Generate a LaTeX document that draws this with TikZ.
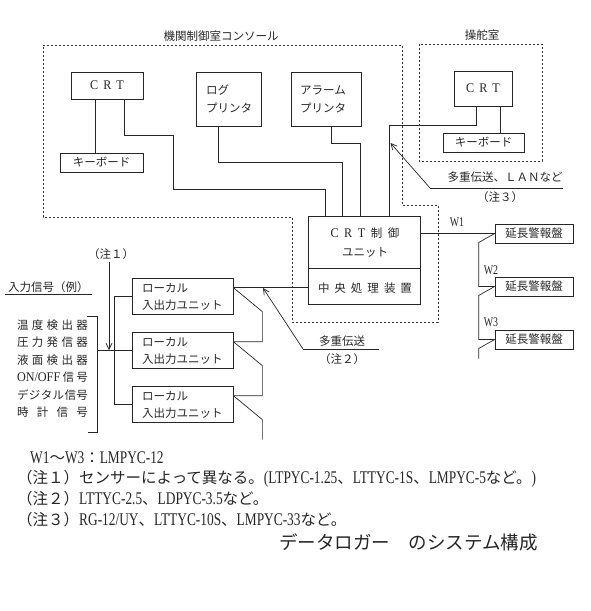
\documentclass[tikz,border=0pt]{standalone}
\usepackage{fontspec}
\setmainfont{Noto Sans CJK JP}
\newfontfamily\latf[FakeStretch=0.75,Scale=1.15]{Liberation Serif}
\newfontfamily\latd[FakeStretch=0.92,Scale=1.15]{Liberation Serif}
\newcommand\lt[1]{{\latf #1}}
\newcommand\ld[1]{{\latd #1}}
\newcommand\fsz{\fontsize{11.5pt}{13pt}\selectfont}
\newcommand\nfs{\fontsize{15.5pt}{17pt}\selectfont}
\newcommand\spr[2]{\makebox[#1][s]{#2}}
\usetikzlibrary{arrows.meta}
\begin{document}
\begin{tikzpicture}[x=1pt,y=-1pt,
  ln/.style={line width=0.7pt, draw=black!85},
  bx/.style={draw=black!85, line width=0.7pt, rectangle, inner sep=0pt, font=\fsz, text=black!85},
  tx/.style={inner sep=0pt, font=\fsz, text=black!85},
  nt/.style={inner sep=0pt, font=\nfs, text=black!85, anchor=west},
  dsh/.style={draw=black!80, line width=0.6pt, dash pattern=on 2.2pt off 1.8pt},
  arr/.style={-{Straight Barb[length=6pt,width=6pt]}}]
\useasboundingbox (0,0) rectangle (591,611);

% dashed rooms
\draw[dsh] (43,45) -- (402,45) -- (402,205) -- (438,205) -- (438,322) -- (292,322) -- (292,217) -- (43,217) -- cycle;
\draw[dsh] (419,44) rectangle (542,161);
\node[tx] (t1) at (221,36) {機関制御室コンソール};
\node[tx] (t2) at (482,35) {操舵室};

% console devices
\node[bx,minimum width=72pt,minimum height=27pt] (crt1) at (107,85.5) {\ld{C\hspace{5pt}R\hspace{5pt}T}};
\node[bx,minimum width=83pt,minimum height=19pt] (kb1) at (101.5,162.5) {キーボード};
\node[bx,minimum width=65pt,minimum height=54pt] (log) at (228.5,99) {};
\node[tx,anchor=west] (logt1) at (206,90) {ログ};
\node[tx,anchor=west] (logt2) at (206,108) {プリンタ};
\node[bx,minimum width=70pt,minimum height=54pt] (alm) at (326,99) {};
\node[tx,anchor=west] (almt1) at (300,90) {アラーム};
\node[tx,anchor=west] (almt2) at (300,108) {プリンタ};
\node[bx,minimum width=58pt,minimum height=35pt] (crt2) at (483,88.5) {\ld{C\hspace{5pt}R\hspace{5pt}T}};
\node[bx,minimum width=81pt,minimum height=19pt] (kb2) at (483.5,142.5) {キーボード};

% CRT control / CPU
\node[bx,minimum width=112pt,minimum height=88pt] (cpu) at (364,260) {};
\draw[ln] ([yshift=-53pt]cpu.north west) -- ([yshift=-53pt]cpu.north east);
\node[tx] (cput1) at (365,233) {\spr{69pt}{\ld{C}\hfill\ld{R}\hfill\ld{T}\hfill 制\hfill 御}};
\node[tx] (cput2) at (365,252) {ユニット};
\node[tx] (cput3) at (365,288) {\spr{94pt}{中\hfill 央\hfill 処\hfill 理\hfill 装\hfill 置}};

% console connections
\draw[ln] ([xshift=25pt]crt1.south west) -- ([xshift=25pt]crt1.south west |- kb1.north);
\draw[ln] ([xshift=54pt]crt1.south west) |- (173,135) -- (173,189) -| ([xshift=18pt]cpu.north west);
\draw[ln] ([xshift=23pt]log.south west) -- ++(0,36) -| ([xshift=35pt]cpu.north west);
\draw[ln] ([xshift=41pt]alm.south west) -- ++(0,17) -| ([xshift=53pt]cpu.north west);
\draw[ln] ([xshift=47pt]crt2.south west) -- ([xshift=47pt]crt2.south west |- kb2.north);
\draw[ln] ([xshift=23pt]crt2.south west) -- ++(0,19) -| ([xshift=82pt]cpu.north west);

% note 3 arrow
\coordinate (a3) at (390.5,143);
\coordinate (n3) at (430,188);
\coordinate (n3e) at (563,188);
\draw[ln,arr] (n3) -- (a3);
\draw[ln] (n3) -- (n3e);
\node[tx] (m3) at (505,177) {多重伝送、ＬＡＮなど};
\node[tx] (m3b) at (500,197) {（注３）};

% extension alarm panels
\foreach \i/\yy in {1/233.5,2/286.5,3/339.5}
  \node[bx,minimum width=78pt,minimum height=19pt] (p\i) at (534,\yy) {延長警報盤};
\node[tx] (w1) at (457,222) {\lt{W1}};
\node[tx] (w2) at (491,270) {\lt{W2}};
\node[tx] (w3) at (491,322) {\lt{W3}};
\draw[ln] (cpu.east |- p1.west) -- (p1.west);
\draw[ln] (p1.west) -- ++(-16,9) |- (p2.west);
\draw[ln] (p2.west) -- ++(-16,9) |- (p3.west);
\draw[ln] (p3.west) -- ++(-16,9) -- ++(0,10);

% local I/O units
\foreach \i/\yy in {1/296,2/350,3/404} {
  \node[bx,minimum width=101pt,minimum height=36pt] (lio\i) at (182.5,\yy) {};
  \node[tx,anchor=west] (lio\i a) at (142,\yy-8) {ローカル};
  \node[tx,anchor=west] (lio\i b) at (142,\yy+9) {入出力ユニット};
}
\coordinate (j1) at ([yshift=-10pt]lio1.north east);
\coordinate (j2) at ([yshift=-10pt]lio2.north east);
\coordinate (j3) at ([yshift=-10pt]lio3.north east);
\draw[ln] (j1) -- (j1 -| cpu.west);
\draw[ln] (j1) -- ++(29,24) |- (j2);
\draw[ln] (j2) -- ++(29,24) |- (j3);
\draw[ln] (j3) -- ++(29,24) -- ++(0,20);

% note 2 arrow
\coordinate (a2) at (263,288);
\coordinate (n2) at (303,349);
\coordinate (n2e) at (379,349);
\draw[ln,arr] (n2) -- (a2);
\draw[ln] (n2) -- (n2e);
\node[tx] (m2) at (342,341) {多重伝送};
\node[tx] (m2b) at (342,359) {（注２）};

% inputs
\draw[ln] (lio1.west) -- ++(-17,0) |- (lio3.west);
\coordinate (bt) at (87,316);
\coordinate (bb) at (88,432);
\coordinate (bm) at (97,350);
\draw[ln] (bt) -- (97,316) -- (97,432) -- (bb);
\draw[ln] (bm) -- (lio2.west);
\node[tx] (n1) at (111,254) {（注１）};
\coordinate (a1s) at (109,262);
\coordinate (a1) at (109,350);
\draw[ln,arr] (a1s) -- (a1);
\node[tx] (inp) at (48.5,287) {入力信号（例）};
\draw[ln] ([xshift=-3pt,yshift=-2pt]inp.south west) -- ([xshift=3pt,yshift=-2pt]inp.south east);
\node[tx] (l1) at (52.5,325) {\spr{71pt}{温\hfill 度\hfill 検\hfill 出\hfill 器}};
\node[tx] (l2) at (52.5,342.5) {\spr{71pt}{圧\hfill 力\hfill 発\hfill 信\hfill 器}};
\node[tx] (l3) at (52.5,360) {\spr{71pt}{液\hfill 面\hfill 検\hfill 出\hfill 器}};
\node[tx] (l4) at (52.5,377.5) {\spr{71pt}{\ld{ON/OFF}\hfill 信\hfill 号}};
\node[tx] (l5) at (52.5,395) {\spr{71pt}{デ\hfill ジ\hfill タ\hfill ル\hfill 信\hfill 号}};
\node[tx] (l6) at (52.5,412.5) {\spr{71pt}{時\hfill 計\hfill 信\hfill 号}};

% notes
\node[nt] (nt0) at (30,458) {\lt{W1}～\lt{W3}：\lt{LMPYC-12}};
\node[nt] (nt1) at (17,478.5) {（注１）センサーによって異なる。\lt{(LTPYC-1.25}、\lt{LTTYC-1S}、\lt{LMPYC-5}など。\lt{)}};
\node[nt] (nt2) at (17,499) {（注２）\lt{LTTYC-2.5}、\lt{LDPYC-3.5}など。};
\node[nt] (nt3) at (17,520) {（注３）\lt{RG-12/UY}、\lt{LTTYC-10S}、\lt{LMPYC-33}など。};
\node[tx,font=\fontsize{18.5pt}{20pt}\selectfont,anchor=west] (ttl) at (279,542) {データロガー　のシステム構成};
\end{tikzpicture}
\end{document}
